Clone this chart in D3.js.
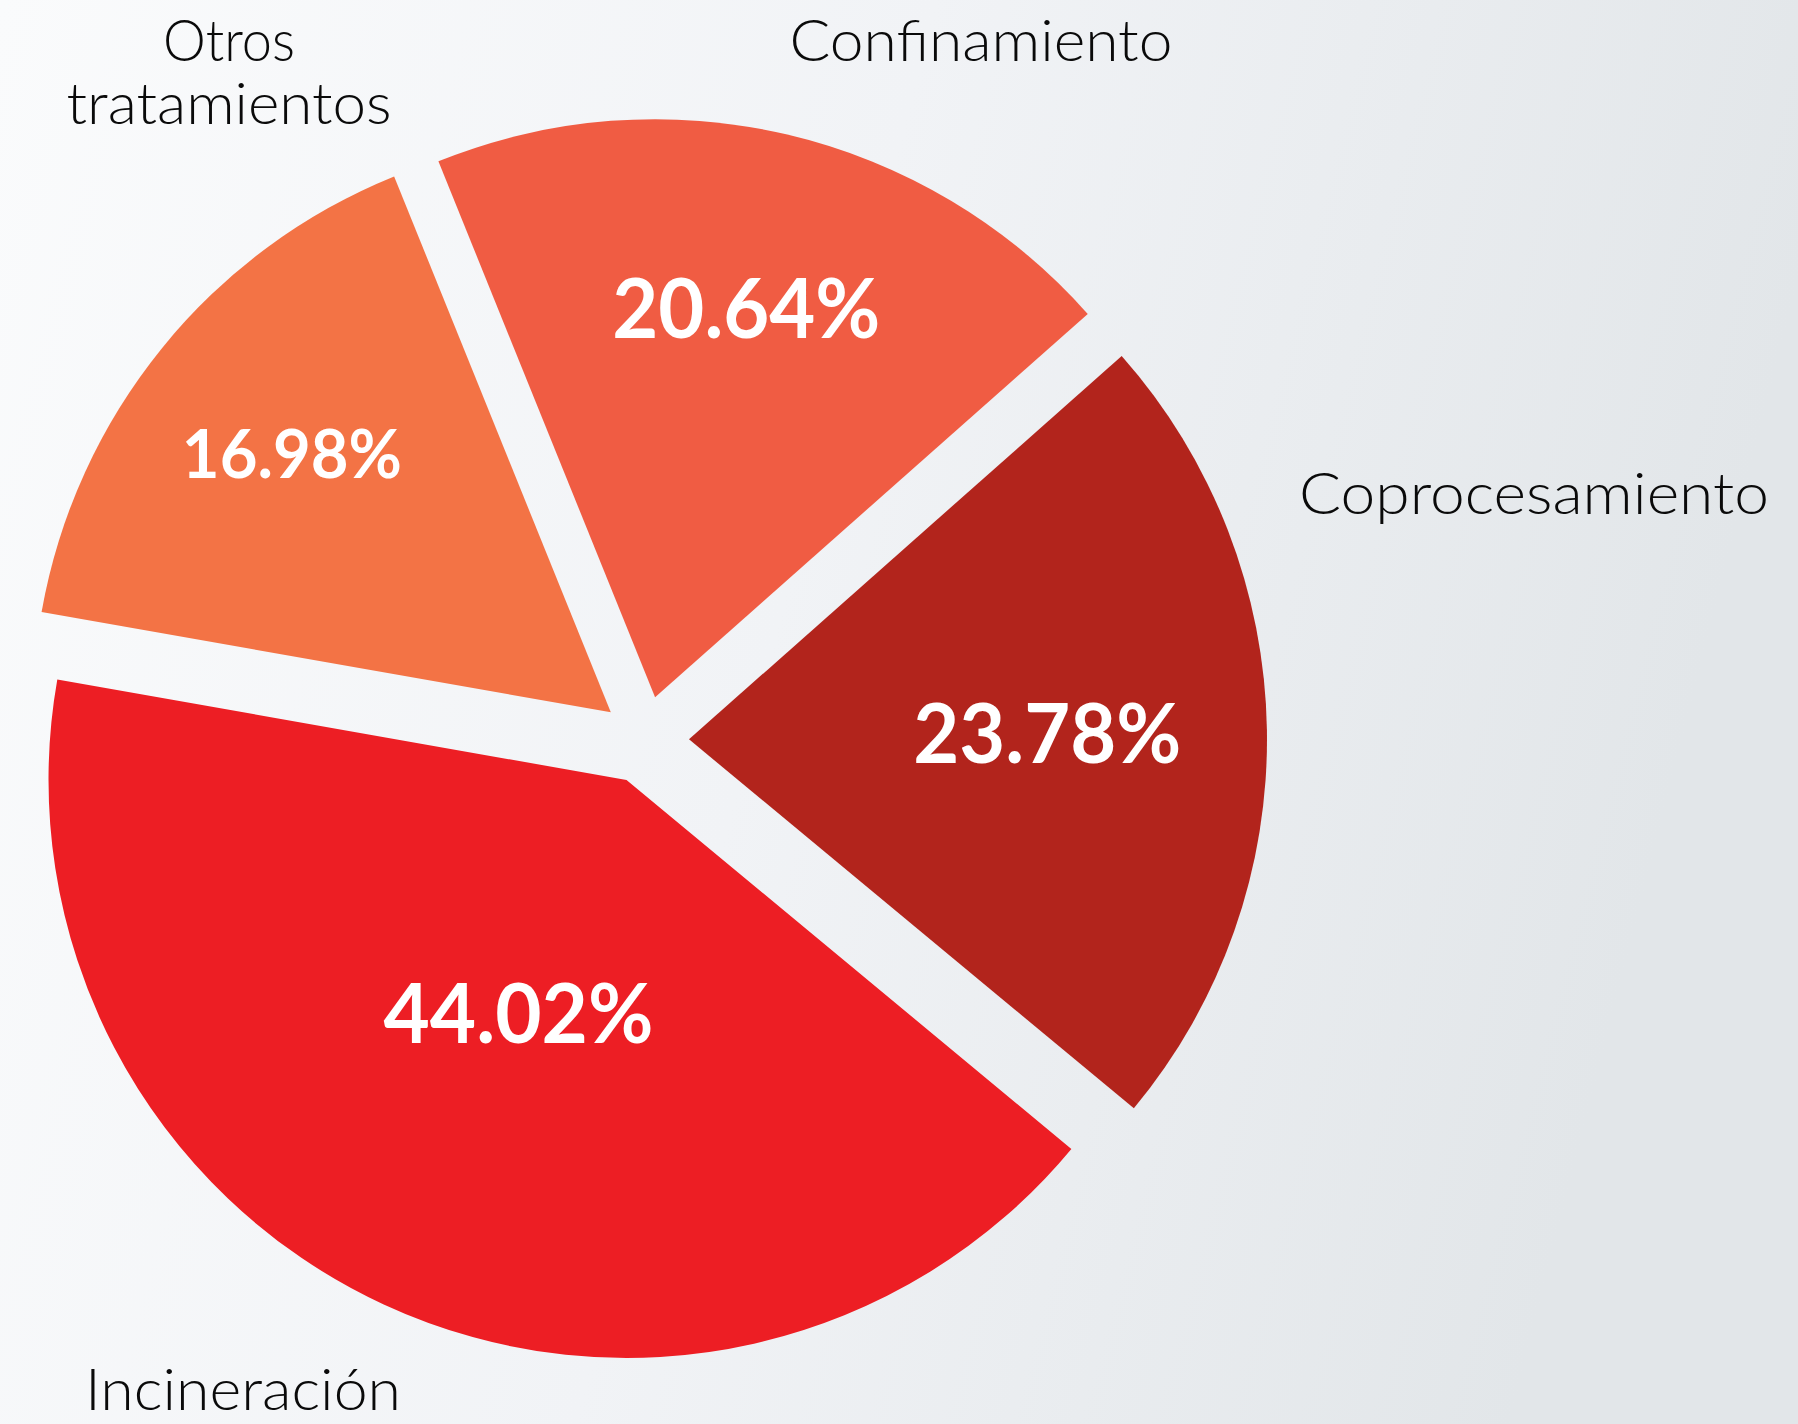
<!DOCTYPE html>
<html>
<head>
<meta charset="utf-8">
<script src="https://cdn.jsdelivr.net/npm/d3@7"></script>
<style>
  html, body { margin: 0; padding: 0; background: #f4f6f8; }
  svg { display: block; }
</style>
</head>
<body>
<svg id="chart" width="1798" height="1424"></svg>
<script>
// Treatment methods and their shares
const categories = ["Otros tratamientos", "Confinamiento", "Coprocesamiento", "Incineración"];
const shares = [16.98, 20.64, 23.78, 44.02];
const shareLabels = ["16.98%", "20.64%", "23.78%", "44.02%"];
const sliceColors = ["#F37345", "#F05C43", "#B2241C", "#ED1E24"];

const W = 1798, H = 1424;
const cx = 645, cy = 740, R = 578, explode = 44;
const startDeg = -80;

const svg = d3.select("#chart");

// soft light-grey backdrop, whiter on the left
const defs = svg.append("defs");
const grad = defs.append("linearGradient").attr("id", "bg")
  .attr("x1", "0").attr("y1", "0").attr("x2", "1").attr("y2", "0.2");
grad.append("stop").attr("offset", "0").attr("stop-color", "#FAFBFC");
grad.append("stop").attr("offset", "0.5").attr("stop-color", "#F1F3F6");
grad.append("stop").attr("offset", "1").attr("stop-color", "#E2E6E9");
svg.append("rect").attr("width", W).attr("height", H).attr("fill", "url(#bg)");

const rows = categories.map((c, i) => ({ name: c, value: shares[i], label: shareLabels[i] }));
const color = d3.scaleOrdinal().domain(categories).range(sliceColors);

const pie = d3.pie().sort(null).value(d => d.value)
  .startAngle(startDeg * Math.PI / 180)
  .endAngle((startDeg + 360) * Math.PI / 180);
const arcs = pie(rows);
const arc = d3.arc().innerRadius(0).outerRadius(R);

// unit vector along a slice's bisector
function bisector(d) {
  const m = (d.startAngle + d.endAngle) / 2;
  return [Math.sin(m), -Math.cos(m)];
}

const g = svg.append("g").attr("transform", `translate(${cx},${cy})`);
const slices = g.selectAll("g.slice").data(arcs).join("g")
  .attr("class", "slice")
  .attr("transform", d => {
    const [ux, uy] = bisector(d);
    return `translate(${ux * explode},${uy * explode})`;
  });

slices.append("path")
  .attr("d", arc)
  .attr("fill", d => color(d.data.name));

// percentage inside each slice
const valueLayout = {
  "Otros tratamientos": { r: 0.71, size: 66, w: 220 },
  "Confinamiento":      { r: 0.69, size: 82, w: 268 },
  "Coprocesamiento":    { r: 0.62, size: 82, w: 268 },
  "Incineración":       { r: 0.445, size: 82, w: 270 }
};
slices.append("text")
  .attr("x", d => bisector(d)[0] * valueLayout[d.data.name].r * R)
  .attr("y", d => bisector(d)[1] * valueLayout[d.data.name].r * R)
  .attr("dy", "0.36em")
  .attr("text-anchor", "middle")
  .attr("font-family", "Lato, 'Open Sans', sans-serif")
  .attr("font-weight", 700)
  .attr("font-size", d => valueLayout[d.data.name].size)
  .attr("fill", "#ffffff")
  .attr("textLength", d => valueLayout[d.data.name].w)
  .attr("lengthAdjust", "spacingAndGlyphs")
  .text(d => d.data.label);

// category names around the pie
const nameLayout = {
  "Otros tratamientos": { x: 229, lines: [["Otros", 61, 132], ["tratamientos", 124, 325]] },
  "Confinamiento":      { x: 981, lines: [["Confinamiento", 61, 383]] },
  "Coprocesamiento":    { x: 1534, lines: [["Coprocesamiento", 514, 470]] },
  "Incineración":       { x: 243, lines: [["Incineración", 1410, 316]] }
};
const names = svg.append("g")
  .attr("font-family", "Lato, 'Open Sans', sans-serif")
  .attr("font-weight", 300)
  .attr("font-size", 57)
  .attr("fill", "#0a0a0a")
  .attr("text-anchor", "middle");
categories.forEach(name => {
  const L = nameLayout[name];
  L.lines.forEach(([txt, y, w]) => {
    names.append("text")
      .attr("x", L.x).attr("y", y)
      .attr("textLength", w)
      .attr("lengthAdjust", "spacingAndGlyphs")
      .text(txt);
  });
});
</script>
</body>
</html>
